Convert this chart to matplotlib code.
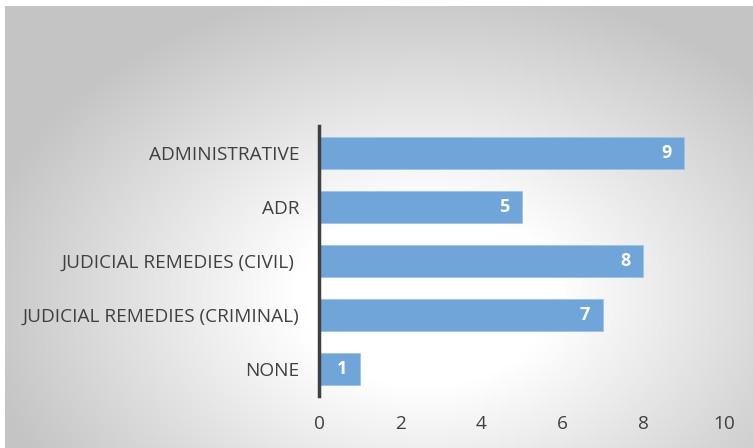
import numpy as np
import matplotlib
matplotlib.use('Agg')
import matplotlib.pyplot as plt

categories = ['ADMINISTRATIVE', 'ADR', 'JUDICIAL REMEDIES (CIVIL) ',
              'JUDICIAL REMEDIES (CRIMINAL)', 'NONE']
counts = [9, 5, 8, 7, 1]
x_ticks = [0, 2, 4, 6, 8, 10]

BAR_COLOR = '#70a5d9'
TEXT_COLOR = '#404040'

plt.rcParams['font.family'] = ['Open Sans', 'DejaVu Sans']

W, H = 753, 448
fig = plt.figure(figsize=(W / 100, H / 100), dpi=100)
fig.patch.set_facecolor('white')

# radial grey gradient behind the chart
bg = fig.add_axes([5 / W, 0, 1 - 5 / W, 1 - 6 / H])
bg.set_axis_off()
yy, xx = np.mgrid[0:442, 0:748]
cx, cy = 420, 290
d = np.sqrt(((xx - cx) / 430.0) ** 2 + ((yy - cy) / 300.0) ** 2)
t = np.clip((d - 0.3) / 0.75, 0, 1)
shade = 1.0 - 0.23 * t
bg.imshow(np.dstack([shade] * 3), aspect='auto', extent=[0, 1, 0, 1])
bg.set_xlim(0, 1)
bg.set_ylim(0, 1)

# plot area: x 0 -> px 319, 10 -> px 724; rows centred ~153..369
left, right = 319 / W, 724 / W
top, bottom = 1 - 126 / H, 1 - 396 / H
ax = fig.add_axes([left, bottom, right - left, top - bottom])
ax.patch.set_alpha(0)

y = np.arange(len(categories))
bars = ax.barh(y, counts, height=0.6, color=BAR_COLOR,
               edgecolor='#9cc3e8', linewidth=0.6)
ax.set_ylim(len(categories) - 0.5, -0.5)
ax.set_xlim(0, 10)
ax.set_xticks(x_ticks)
ax.set_yticks(y)
ax.set_yticklabels(categories)

for b, v in zip(bars, counts):
    ax.text(v - 0.3, b.get_y() + b.get_height() / 2, str(v),
            ha='right', va='center', color='white', fontsize=13,
            fontweight='bold')

for s in ['top', 'right', 'bottom']:
    ax.spines[s].set_visible(False)
ax.spines['left'].set_color('#404040')
ax.spines['left'].set_linewidth(2.5)
ax.tick_params(axis='both', length=0, labelsize=13.7, colors=TEXT_COLOR)
ax.tick_params(axis='y', pad=14)
ax.tick_params(axis='x', pad=14)

fig.savefig('out.png', dpi=100)
